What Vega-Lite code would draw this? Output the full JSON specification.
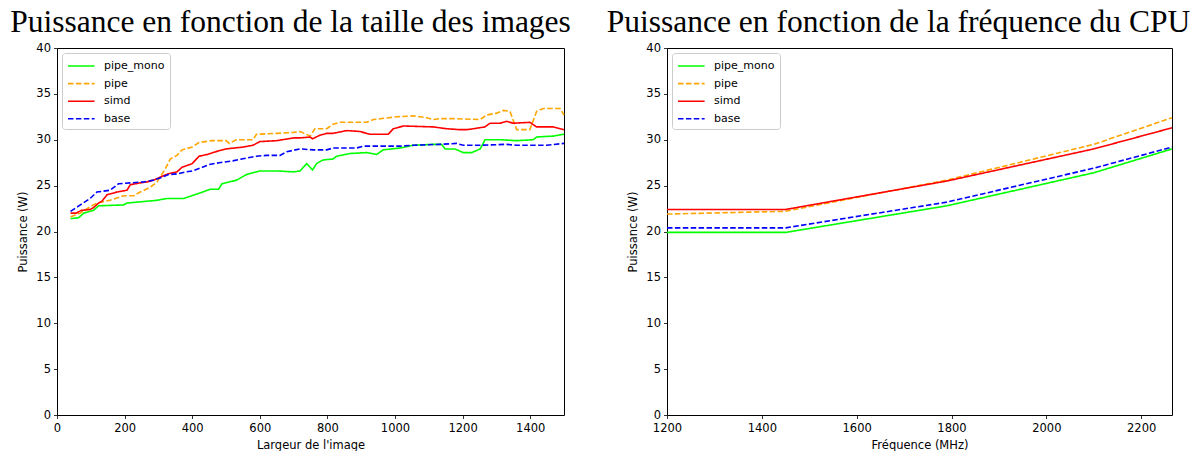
{
  "$schema": "https://vega.github.io/schema/vega-lite/v6.json",
  "autosize": {"type": "none"},
  "padding": {"left": 57, "top": 48, "right": 1137, "bottom": 403},
  "background": "white",
  "datasets": {
    "taille": [
      {"serie": "pipe_mono", "largeur": 40, "puissance": 21.4},
      {"serie": "pipe_mono", "largeur": 64, "puissance": 21.5},
      {"serie": "pipe_mono", "largeur": 79, "puissance": 22.0},
      {"serie": "pipe_mono", "largeur": 108, "puissance": 22.3},
      {"serie": "pipe_mono", "largeur": 123, "puissance": 22.8},
      {"serie": "pipe_mono", "largeur": 197, "puissance": 22.9},
      {"serie": "pipe_mono", "largeur": 207, "puissance": 23.1},
      {"serie": "pipe_mono", "largeur": 296, "puissance": 23.4},
      {"serie": "pipe_mono", "largeur": 325, "puissance": 23.6},
      {"serie": "pipe_mono", "largeur": 375, "puissance": 23.6},
      {"serie": "pipe_mono", "largeur": 423, "puissance": 24.2},
      {"serie": "pipe_mono", "largeur": 453, "puissance": 24.6},
      {"serie": "pipe_mono", "largeur": 478, "puissance": 24.6},
      {"serie": "pipe_mono", "largeur": 488, "puissance": 25.2},
      {"serie": "pipe_mono", "largeur": 532, "puissance": 25.6},
      {"serie": "pipe_mono", "largeur": 560, "puissance": 26.2},
      {"serie": "pipe_mono", "largeur": 600, "puissance": 26.6},
      {"serie": "pipe_mono", "largeur": 650, "puissance": 26.6},
      {"serie": "pipe_mono", "largeur": 700, "puissance": 26.5},
      {"serie": "pipe_mono", "largeur": 719, "puissance": 26.6},
      {"serie": "pipe_mono", "largeur": 739, "puissance": 27.4},
      {"serie": "pipe_mono", "largeur": 756, "puissance": 26.7},
      {"serie": "pipe_mono", "largeur": 768, "puissance": 27.4},
      {"serie": "pipe_mono", "largeur": 787, "puissance": 27.8},
      {"serie": "pipe_mono", "largeur": 817, "puissance": 27.9},
      {"serie": "pipe_mono", "largeur": 827, "puissance": 28.2},
      {"serie": "pipe_mono", "largeur": 867, "puissance": 28.5},
      {"serie": "pipe_mono", "largeur": 916, "puissance": 28.6},
      {"serie": "pipe_mono", "largeur": 946, "puissance": 28.4},
      {"serie": "pipe_mono", "largeur": 965, "puissance": 28.9},
      {"serie": "pipe_mono", "largeur": 1015, "puissance": 29.1},
      {"serie": "pipe_mono", "largeur": 1054, "puissance": 29.4},
      {"serie": "pipe_mono", "largeur": 1113, "puissance": 29.5},
      {"serie": "pipe_mono", "largeur": 1138, "puissance": 29.5},
      {"serie": "pipe_mono", "largeur": 1148, "puissance": 29.0},
      {"serie": "pipe_mono", "largeur": 1177, "puissance": 29.0},
      {"serie": "pipe_mono", "largeur": 1202, "puissance": 28.6},
      {"serie": "pipe_mono", "largeur": 1227, "puissance": 28.6},
      {"serie": "pipe_mono", "largeur": 1252, "puissance": 29.0},
      {"serie": "pipe_mono", "largeur": 1261, "puissance": 29.6},
      {"serie": "pipe_mono", "largeur": 1266, "puissance": 30.0},
      {"serie": "pipe_mono", "largeur": 1311, "puissance": 30.0},
      {"serie": "pipe_mono", "largeur": 1360, "puissance": 29.9},
      {"serie": "pipe_mono", "largeur": 1409, "puissance": 30.0},
      {"serie": "pipe_mono", "largeur": 1419, "puissance": 30.3},
      {"serie": "pipe_mono", "largeur": 1468, "puissance": 30.4},
      {"serie": "pipe_mono", "largeur": 1500, "puissance": 30.6},

      {"serie": "pipe", "largeur": 40, "puissance": 21.6},
      {"serie": "pipe", "largeur": 69, "puissance": 22.0},
      {"serie": "pipe", "largeur": 98, "puissance": 22.7},
      {"serie": "pipe", "largeur": 118, "puissance": 23.1},
      {"serie": "pipe", "largeur": 157, "puissance": 23.4},
      {"serie": "pipe", "largeur": 197, "puissance": 23.9},
      {"serie": "pipe", "largeur": 227, "puissance": 23.9},
      {"serie": "pipe", "largeur": 246, "puissance": 24.3},
      {"serie": "pipe", "largeur": 275, "puissance": 24.8},
      {"serie": "pipe", "largeur": 296, "puissance": 25.4},
      {"serie": "pipe", "largeur": 320, "puissance": 26.8},
      {"serie": "pipe", "largeur": 335, "puissance": 27.9},
      {"serie": "pipe", "largeur": 355, "puissance": 28.3},
      {"serie": "pipe", "largeur": 370, "puissance": 28.9},
      {"serie": "pipe", "largeur": 400, "puissance": 29.2},
      {"serie": "pipe", "largeur": 420, "puissance": 29.7},
      {"serie": "pipe", "largeur": 460, "puissance": 29.9},
      {"serie": "pipe", "largeur": 500, "puissance": 29.9},
      {"serie": "pipe", "largeur": 510, "puissance": 29.6},
      {"serie": "pipe", "largeur": 530, "puissance": 30.0},
      {"serie": "pipe", "largeur": 580, "puissance": 30.0},
      {"serie": "pipe", "largeur": 590, "puissance": 30.6},
      {"serie": "pipe", "largeur": 650, "puissance": 30.7},
      {"serie": "pipe", "largeur": 700, "puissance": 30.8},
      {"serie": "pipe", "largeur": 719, "puissance": 30.9},
      {"serie": "pipe", "largeur": 749, "puissance": 30.4},
      {"serie": "pipe", "largeur": 763, "puissance": 31.2},
      {"serie": "pipe", "largeur": 798, "puissance": 31.2},
      {"serie": "pipe", "largeur": 817, "puissance": 31.7},
      {"serie": "pipe", "largeur": 837, "puissance": 31.9},
      {"serie": "pipe", "largeur": 916, "puissance": 31.9},
      {"serie": "pipe", "largeur": 936, "puissance": 32.2},
      {"serie": "pipe", "largeur": 1005, "puissance": 32.5},
      {"serie": "pipe", "largeur": 1054, "puissance": 32.6},
      {"serie": "pipe", "largeur": 1094, "puissance": 32.4},
      {"serie": "pipe", "largeur": 1113, "puissance": 32.2},
      {"serie": "pipe", "largeur": 1133, "puissance": 32.3},
      {"serie": "pipe", "largeur": 1172, "puissance": 32.3},
      {"serie": "pipe", "largeur": 1252, "puissance": 32.2},
      {"serie": "pipe", "largeur": 1271, "puissance": 32.7},
      {"serie": "pipe", "largeur": 1301, "puissance": 32.9},
      {"serie": "pipe", "largeur": 1320, "puissance": 33.2},
      {"serie": "pipe", "largeur": 1340, "puissance": 33.1},
      {"serie": "pipe", "largeur": 1360, "puissance": 31.1},
      {"serie": "pipe", "largeur": 1399, "puissance": 31.1},
      {"serie": "pipe", "largeur": 1419, "puissance": 33.1},
      {"serie": "pipe", "largeur": 1439, "puissance": 33.4},
      {"serie": "pipe", "largeur": 1488, "puissance": 33.4},
      {"serie": "pipe", "largeur": 1500, "puissance": 32.7},

      {"serie": "simd", "largeur": 40, "puissance": 22.0},
      {"serie": "simd", "largeur": 57, "puissance": 22.0},
      {"serie": "simd", "largeur": 72, "puissance": 22.3},
      {"serie": "simd", "largeur": 98, "puissance": 22.4},
      {"serie": "simd", "largeur": 108, "puissance": 22.6},
      {"serie": "simd", "largeur": 123, "puissance": 23.1},
      {"serie": "simd", "largeur": 133, "puissance": 23.3},
      {"serie": "simd", "largeur": 148, "puissance": 24.0},
      {"serie": "simd", "largeur": 177, "puissance": 24.3},
      {"serie": "simd", "largeur": 207, "puissance": 24.5},
      {"serie": "simd", "largeur": 217, "puissance": 25.1},
      {"serie": "simd", "largeur": 246, "puissance": 25.3},
      {"serie": "simd", "largeur": 266, "puissance": 25.4},
      {"serie": "simd", "largeur": 286, "puissance": 25.6},
      {"serie": "simd", "largeur": 310, "puissance": 26.0},
      {"serie": "simd", "largeur": 330, "puissance": 26.3},
      {"serie": "simd", "largeur": 355, "puissance": 26.5},
      {"serie": "simd", "largeur": 370, "puissance": 27.0},
      {"serie": "simd", "largeur": 400, "puissance": 27.4},
      {"serie": "simd", "largeur": 420, "puissance": 28.2},
      {"serie": "simd", "largeur": 445, "puissance": 28.4},
      {"serie": "simd", "largeur": 470, "puissance": 28.7},
      {"serie": "simd", "largeur": 500, "puissance": 29.0},
      {"serie": "simd", "largeur": 550, "puissance": 29.2},
      {"serie": "simd", "largeur": 580, "puissance": 29.4},
      {"serie": "simd", "largeur": 600, "puissance": 29.8},
      {"serie": "simd", "largeur": 650, "puissance": 29.9},
      {"serie": "simd", "largeur": 700, "puissance": 30.2},
      {"serie": "simd", "largeur": 719, "puissance": 30.2},
      {"serie": "simd", "largeur": 749, "puissance": 30.3},
      {"serie": "simd", "largeur": 756, "puissance": 30.1},
      {"serie": "simd", "largeur": 778, "puissance": 30.5},
      {"serie": "simd", "largeur": 798, "puissance": 30.7},
      {"serie": "simd", "largeur": 817, "puissance": 30.7},
      {"serie": "simd", "largeur": 857, "puissance": 31.0},
      {"serie": "simd", "largeur": 896, "puissance": 30.9},
      {"serie": "simd", "largeur": 926, "puissance": 30.6},
      {"serie": "simd", "largeur": 980, "puissance": 30.6},
      {"serie": "simd", "largeur": 995, "puissance": 31.2},
      {"serie": "simd", "largeur": 1025, "puissance": 31.5},
      {"serie": "simd", "largeur": 1113, "puissance": 31.4},
      {"serie": "simd", "largeur": 1153, "puissance": 31.2},
      {"serie": "simd", "largeur": 1192, "puissance": 31.1},
      {"serie": "simd", "largeur": 1212, "puissance": 31.1},
      {"serie": "simd", "largeur": 1232, "puissance": 31.2},
      {"serie": "simd", "largeur": 1266, "puissance": 31.4},
      {"serie": "simd", "largeur": 1281, "puissance": 31.8},
      {"serie": "simd", "largeur": 1311, "puissance": 31.8},
      {"serie": "simd", "largeur": 1330, "puissance": 32.0},
      {"serie": "simd", "largeur": 1350, "puissance": 31.8},
      {"serie": "simd", "largeur": 1399, "puissance": 31.9},
      {"serie": "simd", "largeur": 1419, "puissance": 31.4},
      {"serie": "simd", "largeur": 1468, "puissance": 31.4},
      {"serie": "simd", "largeur": 1500, "puissance": 31.1},

      {"serie": "base", "largeur": 40, "puissance": 22.2},
      {"serie": "base", "largeur": 69, "puissance": 22.9},
      {"serie": "base", "largeur": 98, "puissance": 23.6},
      {"serie": "base", "largeur": 118, "puissance": 24.3},
      {"serie": "base", "largeur": 157, "puissance": 24.5},
      {"serie": "base", "largeur": 182, "puissance": 25.2},
      {"serie": "base", "largeur": 217, "puissance": 25.3},
      {"serie": "base", "largeur": 256, "puissance": 25.4},
      {"serie": "base", "largeur": 286, "puissance": 25.6},
      {"serie": "base", "largeur": 310, "puissance": 25.9},
      {"serie": "base", "largeur": 330, "puissance": 26.2},
      {"serie": "base", "largeur": 360, "puissance": 26.3},
      {"serie": "base", "largeur": 380, "puissance": 26.5},
      {"serie": "base", "largeur": 400, "puissance": 26.6},
      {"serie": "base", "largeur": 430, "puissance": 27.0},
      {"serie": "base", "largeur": 450, "puissance": 27.3},
      {"serie": "base", "largeur": 480, "puissance": 27.5},
      {"serie": "base", "largeur": 520, "puissance": 27.7},
      {"serie": "base", "largeur": 560, "puissance": 28.0},
      {"serie": "base", "largeur": 590, "puissance": 28.2},
      {"serie": "base", "largeur": 620, "puissance": 28.3},
      {"serie": "base", "largeur": 660, "puissance": 28.3},
      {"serie": "base", "largeur": 680, "puissance": 28.7},
      {"serie": "base", "largeur": 719, "puissance": 29.0},
      {"serie": "base", "largeur": 759, "puissance": 28.9},
      {"serie": "base", "largeur": 798, "puissance": 28.9},
      {"serie": "base", "largeur": 817, "puissance": 29.1},
      {"serie": "base", "largeur": 886, "puissance": 29.1},
      {"serie": "base", "largeur": 906, "puissance": 29.3},
      {"serie": "base", "largeur": 1015, "puissance": 29.3},
      {"serie": "base", "largeur": 1054, "puissance": 29.4},
      {"serie": "base", "largeur": 1133, "puissance": 29.5},
      {"serie": "base", "largeur": 1182, "puissance": 29.6},
      {"serie": "base", "largeur": 1202, "puissance": 29.4},
      {"serie": "base", "largeur": 1252, "puissance": 29.4},
      {"serie": "base", "largeur": 1330, "puissance": 29.5},
      {"serie": "base", "largeur": 1360, "puissance": 29.4},
      {"serie": "base", "largeur": 1448, "puissance": 29.4},
      {"serie": "base", "largeur": 1500, "puissance": 29.6}
    ],
    "frequence": [
      {"serie": "pipe_mono", "freq": 1200, "puissance": 19.9},
      {"serie": "pipe_mono", "freq": 1450, "puissance": 19.9},
      {"serie": "pipe_mono", "freq": 1790, "puissance": 22.8},
      {"serie": "pipe_mono", "freq": 2100, "puissance": 26.4},
      {"serie": "pipe_mono", "freq": 2265, "puissance": 29.0},
      {"serie": "pipe", "freq": 1200, "puissance": 21.9},
      {"serie": "pipe", "freq": 1450, "puissance": 22.2},
      {"serie": "pipe", "freq": 1790, "puissance": 25.6},
      {"serie": "pipe", "freq": 2100, "puissance": 29.5},
      {"serie": "pipe", "freq": 2265, "puissance": 32.4},
      {"serie": "simd", "freq": 1200, "puissance": 22.4},
      {"serie": "simd", "freq": 1450, "puissance": 22.4},
      {"serie": "simd", "freq": 1790, "puissance": 25.5},
      {"serie": "simd", "freq": 2100, "puissance": 29.0},
      {"serie": "simd", "freq": 2265, "puissance": 31.3},
      {"serie": "base", "freq": 1200, "puissance": 20.4},
      {"serie": "base", "freq": 1450, "puissance": 20.4},
      {"serie": "base", "freq": 1790, "puissance": 23.2},
      {"serie": "base", "freq": 2100, "puissance": 26.9},
      {"serie": "base", "freq": 2265, "puissance": 29.2}
    ]
  },
  "spacing": 103,
  "bounds": "flush",
  "hconcat": [
    {
      "data": {"name": "taille"},
      "width": 507,
      "height": 367,
      "title": {"text": "Puissance en fonction de la taille des images", "dx": -20},
      "mark": {"type": "line", "strokeWidth": 1.6},
      "encoding": {
        "x": {"field": "largeur", "type": "quantitative", "scale": {"domain": [0, 1500], "nice": false, "zero": false},
              "axis": {"title": "Largeur de l'image", "format": "d", "values": [0, 200, 400, 600, 800, 1000, 1200, 1400]}},
        "y": {"field": "puissance", "type": "quantitative", "scale": {"domain": [0, 40], "nice": false},
              "axis": {"title": "Puissance (W)", "values": [0, 5, 10, 15, 20, 25, 30, 35, 40]}},
        "color": {"field": "serie", "type": "nominal",
                  "scale": {"domain": ["pipe_mono", "pipe", "simd", "base"], "range": ["#00ff00", "#ffa500", "#ff0000", "#0000ff"]},
                  "legend": {"title": null}},
        "strokeDash": {"field": "serie", "type": "nominal",
                  "scale": {"domain": ["pipe_mono", "pipe", "simd", "base"], "range": [[1, 0], [5.5, 2.4], [1, 0], [5.5, 2.4]]},
                  "legend": {"title": null}}
      }
    },
    {
      "data": {"name": "frequence"},
      "width": 505,
      "height": 367,
      "title": {"text": "Puissance en fonction de la fréquence du CPU", "dx": -21},
      "mark": {"type": "line", "strokeWidth": 1.6},
      "encoding": {
        "x": {"field": "freq", "type": "quantitative", "scale": {"domain": [1200, 2265], "nice": false, "zero": false},
              "axis": {"title": "Fréquence (MHz)", "format": "d", "values": [1200, 1400, 1600, 1800, 2000, 2200]}},
        "y": {"field": "puissance", "type": "quantitative", "scale": {"domain": [0, 40], "nice": false},
              "axis": {"title": "Puissance (W)", "values": [0, 5, 10, 15, 20, 25, 30, 35, 40]}},
        "color": {"field": "serie", "type": "nominal",
                  "scale": {"domain": ["pipe_mono", "pipe", "simd", "base"], "range": ["#00ff00", "#ffa500", "#ff0000", "#0000ff"]},
                  "legend": {"title": null}},
        "strokeDash": {"field": "serie", "type": "nominal",
                  "scale": {"domain": ["pipe_mono", "pipe", "simd", "base"], "range": [[1, 0], [5.5, 2.4], [1, 0], [5.5, 2.4]]},
                  "legend": {"title": null}}
      }
    }
  ],
  "resolve": {"scale": {"color": "independent", "strokeDash": "independent"}, "legend": {"color": "independent", "strokeDash": "independent"}},
  "config": {
    "font": "DejaVu Sans",
    "view": {"stroke": "#000000", "strokeWidth": 1},
    "axis": {
      "grid": false, "domain": false,
      "tickColor": "#000000", "tickSize": 3.5, "tickWidth": 0.8,
      "labelColor": "#000000", "labelFont": "DejaVu Sans", "labelFontSize": 11.5, "labelPadding": 3,
      "labelFlush": false, "labelOverlap": false,
      "titleColor": "#000000", "titleFont": "DejaVu Sans", "titleFontSize": 11.5, "titleFontWeight": "normal"
    },
    "axisX": {"titlePadding": 5, "labelPadding": 4},
    "axisY": {"titlePadding": 7},
    "title": {"font": "Liberation Serif", "fontSize": 31.5, "fontWeight": "normal", "color": "#000000",
              "anchor": "middle", "frame": "group", "baseline": "alphabetic", "offset": 4},
    "legend": {
      "orient": "top-left", "offset": 5, "padding": 5,
      "strokeColor": "#cccccc", "fillColor": "#ffffff", "cornerRadius": 3,
      "symbolType": "M-1,0H2.8", "symbolSize": 196, "symbolStrokeWidth": 1.6,
      "labelFont": "DejaVu Sans", "labelFontSize": 11, "labelColor": "#000000",
      "labelOffset": 21, "rowPadding": 4.6
    }
  }
}
